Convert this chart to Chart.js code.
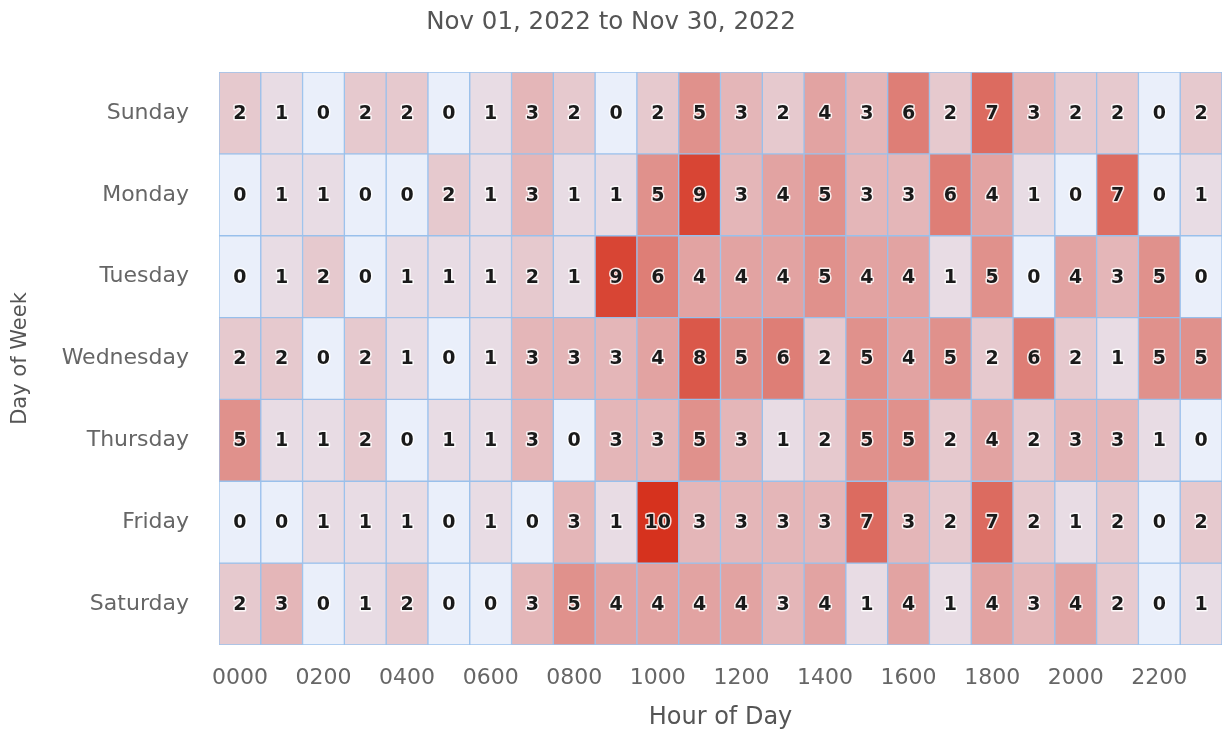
<!DOCTYPE html>
<html>
<head>
<meta charset="utf-8">
<script src="https://cdn.jsdelivr.net/npm/chart.js@4/dist/chart.umd.min.js"></script>
<style>
  html, body { margin: 0; padding: 0; background: #ffffff; }
  #wrap { width: 1225px; height: 734px; position: relative; }
</style>
</head>
<body>
<div id="wrap"><canvas id="c"></canvas></div>
<script>
const titleText = 'Nov 01, 2022 to Nov 30, 2022';
const days = ['Sunday', 'Monday', 'Tuesday', 'Wednesday', 'Thursday', 'Friday', 'Saturday'];
const hours = ['0000','0100','0200','0300','0400','0500','0600','0700','0800','0900','1000','1100',
               '1200','1300','1400','1500','1600','1700','1800','1900','2000','2100','2200','2300'];
const sunday    = [2,1,0,2,2,0,1,3,2,0,2,5,3,2,4,3,6,2,7,3,2,2,0,2];
const monday    = [0,1,1,0,0,2,1,3,1,1,5,9,3,4,5,3,3,6,4,1,0,7,0,1];
const tuesday   = [0,1,2,0,1,1,1,2,1,9,6,4,4,4,5,4,4,1,5,0,4,3,5,0];
const wednesday = [2,2,0,2,1,0,1,3,3,3,4,8,5,6,2,5,4,5,2,6,2,1,5,5];
const thursday  = [5,1,1,2,0,1,1,3,0,3,3,5,3,1,2,5,5,2,4,2,3,3,1,0];
const friday    = [0,0,1,1,1,0,1,0,3,1,10,3,3,3,3,7,3,2,7,2,1,2,0,2];
const saturday  = [2,3,0,1,2,0,0,3,5,4,4,4,4,3,4,1,4,1,4,3,4,2,0,1];
const values = [sunday, monday, tuesday, wednesday, thursday, friday, saturday];
const maxValue = 10;

const lowColor = [234, 239, 250];
const highColor = [214, 50, 30];
function colorFor(v) {
  const t = Math.max(0, Math.min(1, v / maxValue));
  const c = lowColor.map((l, i) => Math.round(l + (highColor[i] - l) * t));
  return `rgb(${c[0]},${c[1]},${c[2]})`;
}

const datasets = values.map((row, d) => ({
  label: days[d],
  data: row.map(() => [d - 0.5, d + 0.5]),
  cellValues: row,
  backgroundColor: row.map(colorFor),
  borderColor: 'rgba(150,190,235,0.95)',
  borderWidth: 1,
  borderSkipped: false,
  grouped: false,
  barPercentage: 1,
  categoryPercentage: 1
}));

const cellLabels = {
  id: 'cellLabels',
  afterDatasetsDraw(chart) {
    const ctx = chart.ctx;
    ctx.save();
    ctx.font = 'bold 19px "DejaVu Sans", sans-serif';
    ctx.textAlign = 'center';
    ctx.textBaseline = 'middle';
    ctx.lineJoin = 'round';
    chart.data.datasets.forEach((ds, di) => {
      const meta = chart.getDatasetMeta(di);
      meta.data.forEach((el, i) => {
        const txt = String(ds.cellValues[i]);
        const cx = el.x;
        const cy = (el.y + el.base) / 2 + 1;
        ctx.strokeStyle = 'rgba(255,255,255,0.85)';
        ctx.lineWidth = 3;
        ctx.strokeText(txt, cx, cy);
        ctx.fillStyle = '#1a1a1a';
        ctx.fillText(txt, cx, cy);
      });
    });
    ctx.restore();
  }
};

new Chart(document.getElementById('c'), {
  type: 'bar',
  data: { labels: hours, datasets },
  options: {
    responsive: true,
    maintainAspectRatio: false,
    animation: false,
    layout: { padding: { left: 0, right: 3, top: 0, bottom: 0 } },
    plugins: {
      legend: { display: false },
      tooltip: { enabled: false },
      title: {
        display: true,
        text: titleText,
        color: '#555555',
        font: { family: '"DejaVu Sans", sans-serif', size: 24.5, weight: 'normal' },
        padding: { top: 8, bottom: 34.6 }
      }
    },
    scales: {
      x: {
        type: 'category',
        offset: true,
        grid: { display: false, drawTicks: false },
        border: { display: false },
        afterFit(scale) { scale.height = 89; },
        ticks: {
          autoSkip: false,
          maxRotation: 0,
          padding: 20,
          color: '#666666',
          font: { family: '"DejaVu Sans", sans-serif', size: 22 },
          callback: function(value, index) { return index % 2 === 0 ? hours[index] : ''; }
        },
        title: {
          display: true,
          text: 'Hour of Day',
          color: '#555555',
          font: { family: '"DejaVu Sans", sans-serif', size: 24 },
          padding: { top: 0, bottom: 2 }
        }
      },
      y: {
        type: 'linear',
        min: -0.5,
        max: 6.5,
        reverse: true,
        stacked: false,
        grid: { display: false, drawTicks: false },
        border: { display: false },
        afterFit(scale) { scale.width = 219; },
        afterBuildTicks(axis) { axis.ticks = days.map((_, i) => ({ value: i })); },
        ticks: {
          padding: 30,
          color: '#666666',
          font: { family: '"DejaVu Sans", sans-serif', size: 22 },
          callback: function(value) { return days[value] !== undefined ? days[value] : ''; }
        },
        title: {
          display: true,
          text: 'Day of Week',
          color: '#555555',
          font: { family: '"DejaVu Sans", sans-serif', size: 21 },
          padding: { top: 8, bottom: 0 }
        }
      }
    }
  },
  plugins: [cellLabels]
});
</script>
</body>
</html>
